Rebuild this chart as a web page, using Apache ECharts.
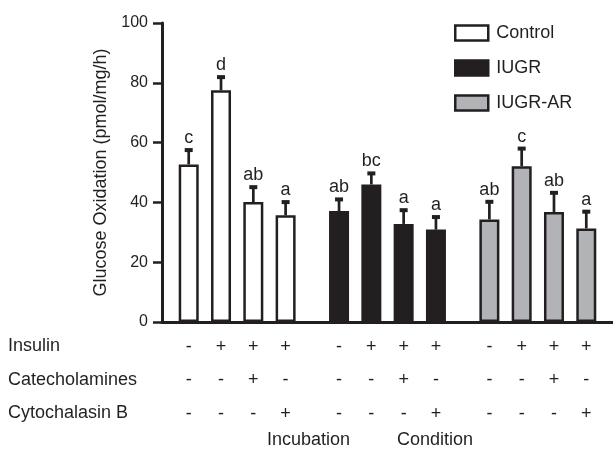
<!DOCTYPE html>
<html><head><meta charset="utf-8">
<script src="https://cdn.jsdelivr.net/npm/echarts@6/dist/echarts.min.js"></script>
<style>html,body{margin:0;padding:0;background:#fff}#c{width:613px;height:449px}</style>
</head><body><div id="c"></div>
<script>
// ---- data ----
const groups = ['Control', 'IUGR', 'IUGR-AR'];
const conditions = ['Basal', 'Insulin', 'Insulin + Catecholamines', 'Insulin + Cytochalasin B'];
const controlMean = [52.7, 77.5, 40.1, 35.7];
const controlErr = [4.8, 4.4, 5.0, 4.4];
const iugrMean = [37.1, 46.0, 32.8, 30.9];
const iugrErr = [3.9, 3.7, 4.6, 4.2];
const iugrArMean = [34.3, 52.1, 36.8, 31.3];
const iugrArErr = [5.9, 5.9, 6.4, 5.6];
const controlLetters = ['c', 'd', 'ab', 'a'];
const iugrLetters = ['ab', 'bc', 'a', 'a'];
const iugrArLetters = ['ab', 'c', 'ab', 'a'];
const rowLabels = ['Insulin', 'Catecholamines', 'Cytochalasin B'];
const insulinSigns = ['-', '+', '+', '+'];
const catecholamineSigns = ['-', '-', '+', '-'];
const cytochalasinSigns = ['-', '-', '-', '+'];
const axisTitleX = ['Incubation', 'Condition'];
const yTicks = [0, 20, 40, 60, 80, 100];

// ---- styling ----
const INK = '#231f20';
const FONT = '"Liberation Sans", Arial, Helvetica, sans-serif';
const fills = ['#ffffff', INK, '#b1b3b6'];
const BAR_W = 20, BAR_GAP = 0.615, BORDER = 2.5;
const PITCH = BAR_W * (1 + BAR_GAP);

const means = [controlMean, iugrMean, iugrArMean];
const errs = [controlErr, iugrErr, iugrArErr];
const letters = [controlLetters, iugrLetters, iugrArLetters];
const signRows = [insulinSigns, catecholamineSigns, cytochalasinSigns];

const barSeries = conditions.map((cond, ci) => ({
  type: 'bar',
  name: cond,
  barWidth: BAR_W,
  barGap: (BAR_GAP * 100) + '%',
  itemStyle: { borderColor: INK, borderWidth: BORDER },
  data: groups.map((g, gi) => ({ value: means[gi][ci], itemStyle: { color: fills[gi] } })),
  z: 3
}));

const errData = [];
groups.forEach((g, gi) => conditions.forEach((c, ci) => {
  errData.push([gi, means[gi][ci] + errs[gi][ci], means[gi][ci], errs[gi][ci], ci]);
}));

const errSeries = {
  type: 'custom',
  clip: false,
  z: 4,
  encode: { x: 0, y: 1 },
  data: errData,
  renderItem: function (params, api) {
    const gi = api.value(0), m = api.value(2), e = api.value(3), ci = api.value(4);
    const base = api.coord([gi, m]);
    const top = api.coord([gi, m + e]);
    const zero = api.coord([gi, 0]);
    const x = base[0] + (ci - 1.5) * PITCH;
    const children = [
      { type: 'line', shape: { x1: x, y1: base[1], x2: x, y2: top[1] }, style: { stroke: INK, lineWidth: 2.7 } },
      { type: 'rect', shape: { x: x - 4, y: top[1] - 2, width: 8, height: 4 }, style: { fill: INK } },
      { type: 'text', x: x, y: top[1] - 3, style: { text: letters[gi][ci], fill: INK, font: '18px ' + FONT, align: 'center', verticalAlign: 'bottom' } }
    ];
    const offs = [25, 58, 92];
    signRows.forEach((row, ri) => {
      children.push({ type: 'text', x: x, y: zero[1] + offs[ri], style: { text: row[ci], fill: INK, font: '18px ' + FONT, align: 'center', verticalAlign: 'middle' } });
    });
    return { type: 'group', children: children };
  }
};

const legendSeries = groups.map(g => ({ type: 'line', name: g, data: [] }));

const chart = echarts.init(document.getElementById('c'), null, { renderer: 'canvas' });
chart.setOption({
  animation: false,
  backgroundColor: '#ffffff',
  textStyle: { fontFamily: FONT, color: INK },
  grid: { left: 162, right: -2, top: 23, bottom: 127 },
  legend: {
    orient: 'vertical', left: 449, top: 19, itemWidth: 33, itemHeight: 15, itemGap: 17,
    selectedMode: false,
    textStyle: { fontSize: 18, fontFamily: FONT, color: INK, padding: [0, 0, 0, 3] },
    data: groups.map((g, gi) => ({ name: g, icon: 'rect', itemStyle: { color: fills[gi], borderColor: INK, borderWidth: BORDER } }))
  },
  xAxis: {
    type: 'category', data: groups,
    axisLine: { lineStyle: { color: INK, width: 3 } },
    axisTick: { show: false }, axisLabel: { show: false }, splitLine: { show: false }
  },
  yAxis: {
    type: 'value', min: yTicks[0], max: yTicks[yTicks.length - 1], interval: yTicks[1] - yTicks[0],
    name: 'Glucose Oxidation (pmol/mg/h)', nameLocation: 'middle', nameGap: 50,
    nameTextStyle: { fontSize: 18, fontFamily: FONT, color: INK },
    axisLine: { show: true, lineStyle: { color: INK, width: 3 } },
    axisTick: { show: true, length: 9, lineStyle: { color: INK, width: 2.5 } },
    axisLabel: { fontSize: 16, fontFamily: FONT, color: INK, margin: 14 },
    splitLine: { show: false }
  },
  graphic: [
    ...rowLabels.map((t, i) => ({ type: 'text', left: 8, top: [337, 371, 404][i], style: { text: t, font: '18px ' + FONT, fill: INK } })),
    { type: 'text', left: 267, top: 431, style: { text: axisTitleX[0], font: '18px ' + FONT, fill: INK } },
    { type: 'text', left: 397, top: 431, style: { text: axisTitleX[1], font: '18px ' + FONT, fill: INK } }
  ],
  series: [...barSeries, errSeries, ...legendSeries]
});
</script></body></html>
